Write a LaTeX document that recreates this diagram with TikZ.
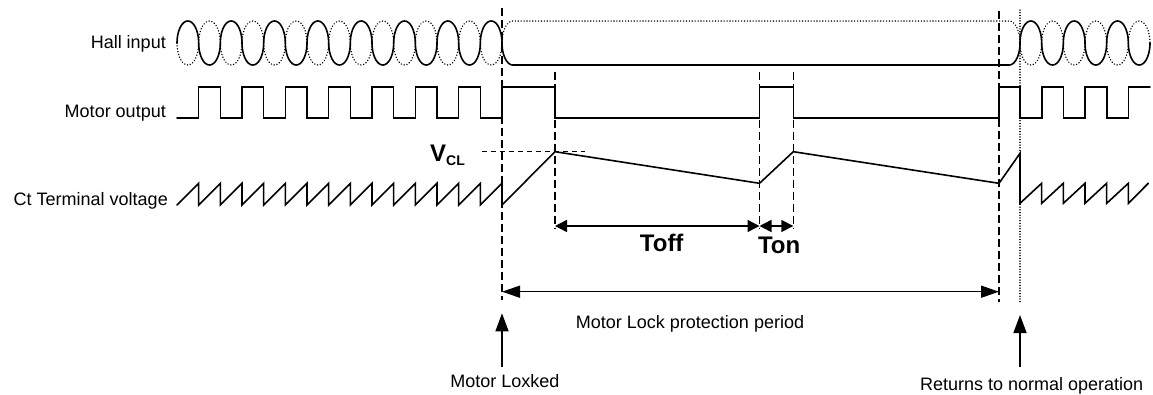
\documentclass[tikz,border=0pt]{standalone}
\usepackage{fontspec}
\setmainfont{Liberation Sans}
\usetikzlibrary{arrows.meta}
\begin{document}
\begin{tikzpicture}[x=1pt,y=-1pt,
  wave/.style={line width=1.6pt,line cap=round,line join=miter},
  wavedot/.style={line width=1.5pt,dash pattern=on 0.1pt off 2.8pt,line cap=round},
  guide/.style={line width=1.3pt,dash pattern=on 8pt off 4pt},
  guidedot/.style={line width=1.3pt,dash pattern=on 0.1pt off 2.6pt,line cap=round},
  lbl/.style={inner sep=0pt,font=\fontsize{18}{20}\selectfont},
  big/.style={inner sep=0pt,font=\fontsize{24}{26}\selectfont\bfseries},
  dimarrow/.style={line width=1.5pt,{Triangle[length=12pt,width=12pt]}-{Triangle[length=12pt,width=12pt]}},
  longarrow/.style={line width=1.5pt,{Triangle[length=18pt,width=12pt]}-{Triangle[length=18pt,width=12pt]}},
  uparrow/.style={line width=1.5pt,-{Triangle[length=18pt,width=13pt]}}]
\useasboundingbox (0,0) rectangle (1153,394);

% labels
\node[lbl,anchor=base east] (hall) at (166,48.3) {Hall input};
\node[lbl,anchor=base east] (mout) at (166,117) {Motor output};
\node[lbl,anchor=base east] (ct) at (168,205) {Ct Terminal voltage};

% Hall input waves before lock
\foreach \k [evaluate=\k as \m using {177+(\k+0.5)*21.667},
             evaluate=\k as \sg using {1-2*mod(\k,2)}] in {0,...,14} {
  \draw[wave] plot[domain=0:180,samples=25] ({\m-10.833*cos(\x)},{43-\sg*22*sin(\x)});
  \draw[wavedot] plot[domain=0:180,samples=25] ({\m-10.833*cos(\x)},{43+\sg*22*sin(\x)});
}
% transitions
\draw[wave] plot[domain=0:90,samples=12] ({512.833-10.833*cos(\x)},{43+22*sin(\x)})
  -- (1009.167,65) -- plot[domain=90:0,samples=12] ({1009.167+10.833*cos(\x)},{43+22*sin(\x)});
\draw[wavedot] plot[domain=0:90,samples=12] ({512.833-10.833*cos(\x)},{43-22*sin(\x)})
  -- (1009.167,21) -- plot[domain=90:0,samples=12] ({1009.167+10.833*cos(\x)},{43-22*sin(\x)});
% Hall input waves after return
\foreach \j [evaluate=\j as \m using {1020+(\j+0.5)*21.667},
             evaluate=\j as \sg using {1-2*mod(\j,2)}] in {0,...,5} {
  \draw[wave] plot[domain=0:180,samples=25] ({\m-10.833*cos(\x)},{43-\sg*22*sin(\x)});
  \draw[wavedot] plot[domain=0:180,samples=25] ({\m-10.833*cos(\x)},{43+\sg*22*sin(\x)});
}

% Motor output
\draw[wave] (177,118)
  \foreach \k in {1,3,...,13} {
    -- ({177+\k*21.667},118) -- ({177+\k*21.667},87)
    -- ({177+(\k+1)*21.667},87) -- ({177+(\k+1)*21.667},118) }
  -- (502,118) -- (502,87) -- (555,87) -- (555,118) -- (759.5,118) -- (759.5,87)
  -- (793.3,87) -- (793.3,118) -- (999,118) -- (999,87) -- (1020,87) -- (1020,118)
  -- (1041.7,118) -- (1041.7,87) -- (1063.3,87) -- (1063.3,118) -- (1085,118)
  -- (1085,87) -- (1106.7,87) -- (1106.7,118) -- (1128.3,118) -- (1128.3,87) -- (1150,87);

% Ct terminal voltage
\draw[wave] (177,205)
  \foreach \k in {1,...,15} { -- ({177+\k*21.667},183.3) -- ({177+\k*21.667},205) }
  -- (555,151.7) -- (759.5,183.3) -- (793.3,151.7) -- (999,183.3) -- (1020,153.3) -- (1020,203.3)
  \foreach \j in {1,...,5} { -- ({1020+\j*21.667},183.3) -- ({1020+\j*21.667},203.3) }
  -- (1148.3,183.3);

% guide lines
\draw[guide] (502,8) -- (502,300);
\draw[guide] (555,71.7) -- (555,228);
\draw[guide] (759.5,71.7) -- (759.5,228);
\draw[guide] (793.3,71.7) -- (793.3,228);
\draw[guide] (999,11) -- (999,301.7);
\draw[guidedot] (1020,10) -- (1020,301.7);
\draw[line width=1.4pt,dash pattern=on 5pt off 4pt] (481.7,151.7) -- (585,151.7);

% V_CL label
\node[inner sep=0pt,anchor=base west] (vcl) at (430,161)
  {\fontsize{24}{26}\selectfont\bfseries V\raisebox{-4pt}{\fontsize{14}{16}\selectfont\bfseries CL}};

% dimension arrows
\coordinate (toffL) at (555,226);
\coordinate (toffR) at (759.5,226);
\coordinate (tonR) at (793.3,226);
\draw[dimarrow] (toffL) -- (toffR);
\draw[dimarrow] (toffR) -- (tonR);
\node[big,anchor=base] (toff) at (661.7,251.7) {Toff};
\node[big,anchor=base] (ton) at (779.2,253.3) {Ton};

\coordinate (lockL) at (502,291.7);
\coordinate (lockR) at (999,291.7);
\draw[longarrow] (lockL) -- (lockR);
\node[lbl,anchor=base] (period) at (690,328.3) {Motor Lock protection period};

% event arrows
\node[lbl,anchor=base] (locked) at (505,387.3) {Motor Loxked};
\node[lbl,anchor=base] (returns) at (1031.7,390) {Returns to normal operation};
\coordinate (lockedT) at (502,313.3);
\coordinate (lockedB) at (502,366.7);
\coordinate (retT) at (1020,315);
\coordinate (retB) at (1020,366.7);
\draw[uparrow] (lockedB) -- (lockedT);
\draw[uparrow] (retB) -- (retT);
\end{tikzpicture}
\end{document}
